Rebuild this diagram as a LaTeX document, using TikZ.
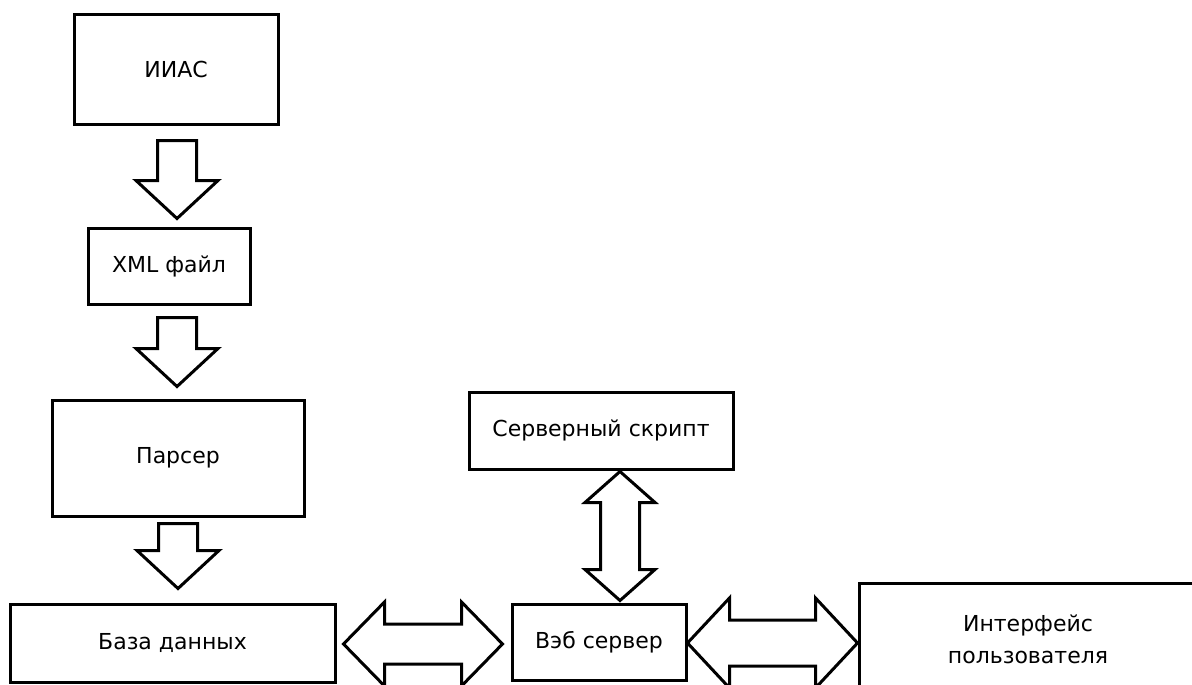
\documentclass[tikz,border=0pt]{standalone}
\usepackage{fontspec}
\setmainfont{DejaVu Sans}
\usepackage{tikz}
\usetikzlibrary{calc,positioning}

% block arrow pointing down, #1 = top of shaft, #2 = tip
\newcommand{\fatdown}[2]{%
  \draw[fatarrow] ($(#1)+(-19.5,0)$) -- ($(#1)+(19.5,0)$) -- ($(#2)+(19.5,-38)$)
    -- ($(#2)+(41,-38)$) -- (#2) -- ($(#2)+(-41,-38)$) -- ($(#2)+(-19.5,-38)$) -- cycle;}
% block arrow with two heads, horizontal: #1 left tip, #2 right tip, #3 head length, #4 head half, #5 shaft half
\newcommand{\fatleftright}[5]{%
  \draw[fatarrow] (#1) -- ($(#1)+(#3,-#4)$) -- ($(#1)+(#3,-#5)$) -- ($(#2)+(-#3,-#5)$)
    -- ($(#2)+(-#3,-#4)$) -- (#2) -- ($(#2)+(-#3,#4)$) -- ($(#2)+(-#3,#5)$)
    -- ($(#1)+(#3,#5)$) -- ($(#1)+(#3,#4)$) -- cycle;}
% same, vertical: #1 top tip, #2 bottom tip
\newcommand{\fatupdown}[5]{%
  \draw[fatarrow] (#1) -- ($(#1)+(#4,#3)$) -- ($(#1)+(#5,#3)$) -- ($(#2)+(#5,-#3)$)
    -- ($(#2)+(#4,-#3)$) -- (#2) -- ($(#2)+(-#4,-#3)$) -- ($(#2)+(-#5,-#3)$)
    -- ($(#1)+(-#5,#3)$) -- ($(#1)+(-#4,#3)$) -- cycle;}

\begin{document}
\begin{tikzpicture}[x=1pt,y=-1pt,
    block/.style={draw=black,line width=3pt,fill=white,inner sep=0pt,align=center,
      font=\fontsize{22}{32}\selectfont},
    fatarrow/.style={draw=black,line width=3pt,fill=white,line join=miter}]
  \useasboundingbox (0,0) rectangle (1192,685);
  \clip (0,0) rectangle (1192,685);

  \node[block,minimum width=204pt,minimum height=109pt] (iias) at (176,69.5) {ИИАС};
  \node[block,minimum width=162pt,minimum height=76pt] (xml) at (169,266) {XML файл};
  \node[block,minimum width=252pt,minimum height=116pt] (parser) at (178,458) {Парсер};
  \node[block,minimum width=325pt,minimum height=78pt] (db) at (172.5,643) {База данных};
  \node[block,minimum width=174pt,minimum height=76pt] (web) at (599,642) {Вэб сервер};
  \node[block,minimum width=264pt,minimum height=77pt] (script) at (601,430.5) {Серверный скрипт};
  \node[block,minimum width=338pt,minimum height=112pt] (ui) at (1028,639) {Интерфейс\\пользователя};

  % down arrows
  \coordinate (d1a) at ($(iias.south)+(1,15)$);
  \coordinate (d1b) at ($(d1a |- xml.north)+(0,-8)$);
  \fatdown{d1a}{d1b}
  \coordinate (d2a) at ($(d1a |- xml.south)+(0,12)$);
  \coordinate (d2b) at ($(d2a |- parser.north)+(0,-12)$);
  \fatdown{d2a}{d2b}
  \coordinate (d3a) at ($(parser.south)+(0,6)$);
  \coordinate (d3b) at ($(d3a |- db.north)+(0,-14)$);
  \fatdown{d3a}{d3b}

  % two way arrows
  \coordinate (h1a) at ($(db.east)+(7,1)$);
  \coordinate (h1b) at ($(h1a -| web.west)+(-8,0)$);
  \fatleftright{h1a}{h1b}{41}{42}{20}
  \coordinate (h2a) at ($(web.east)+(0,1)$);
  \coordinate (h2b) at (h2a -| ui.west);
  \fatleftright{h2a}{h2b}{42}{45}{23}
  \coordinate (v1a) at ($(script.south)+(19,1)$);
  \coordinate (v1b) at ($(v1a |- web.north)+(0,-2)$);
  \fatupdown{v1a}{v1b}{31}{35}{19.5}
\end{tikzpicture}
\end{document}
